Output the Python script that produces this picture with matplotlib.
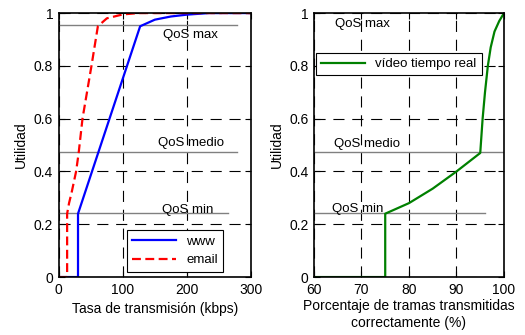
import matplotlib.pyplot as plt

plt.rcParams['font.family'] = ['Liberation Sans', 'DejaVu Sans']
plt.rcParams['font.size'] = 10

# www curve (kbps, utility)
www_x = [0, 30, 30, 127, 150, 175, 200, 235, 300]
www_y = [0, 0, 0.24, 0.95, 0.975, 0.987, 0.994, 1.0, 1.0]
# email curve
email_x = [0, 13, 13, 16, 20, 27, 31, 37, 44, 51, 61, 75, 100, 125, 300]
email_y = [0, 0, 0.24, 0.28, 0.32, 0.40, 0.47, 0.60, 0.70, 0.80, 0.95, 0.98, 0.995, 1.0, 1.0]
# video curve (% frames, utility)
video_x = [60, 75, 75, 80, 85, 90, 95, 95.5, 96, 96.6, 97.2, 98, 99, 100]
video_y = [0, 0, 0.24, 0.28, 0.335, 0.40, 0.47, 0.60, 0.70, 0.80, 0.87, 0.93, 0.97, 1.0]

qos_levels = [0.955, 0.473, 0.242]
qos_names = ["QoS max", "QoS medio", "QoS min"]

fig = plt.figure(figsize=(5.25, 3.35), dpi=100)
ax1 = fig.add_axes([0.112, 0.173, 0.366, 0.788])
ax2 = fig.add_axes([0.598, 0.173, 0.362, 0.788])

def style(ax):
    ax.grid(True, color='black', linestyle=(0, (10, 7)), linewidth=0.8)
    ax.tick_params(direction='in', top=True, right=True, length=4, pad=4)
    for s in ax.spines.values():
        s.set_linewidth(1.2)
    ax.set_ylim(0, 1)
    ax.set_yticks([0, 0.2, 0.4, 0.6, 0.8, 1])
    ax.set_yticklabels(['0', '0.2', '0.4', '0.6', '0.8', '1'])
    ax.set_ylabel("Utilidad")

# left plot
ax1.plot([0, 278], [qos_levels[0]] * 2, color='gray', lw=1)
ax1.plot([0, 278], [qos_levels[1]] * 2, color='gray', lw=1)
ax1.plot([0, 264], [qos_levels[2]] * 2, color='gray', lw=1)
ax1.text(205, qos_levels[0] - 0.015, qos_names[0], ha='center', va='top', fontsize=9.5)
ax1.text(207, qos_levels[1] + 0.012, qos_names[1], ha='center', va='bottom', fontsize=9.5)
ax1.text(202, qos_levels[2] - 0.012, qos_names[2], ha='center', va='bottom', fontsize=9.5)
ax1.plot(www_x, www_y, color='blue', lw=1.6, label='www')
ax1.plot(email_x, email_y, color='red', lw=1.6, linestyle=(0, (4, 2)), label='email')
ax1.set_xlim(0, 300)
ax1.set_xticks([0, 100, 200, 300])
ax1.set_xlabel("Tasa de transmisión (kbps)")
style(ax1)
leg = ax1.legend(loc='lower right', bbox_to_anchor=(0.855, 0.02), borderaxespad=0,
                 fancybox=False, edgecolor='black', framealpha=1, handlelength=3.3,
                 borderpad=0.4, fontsize=9.5)
leg.get_frame().set_linewidth(0.8)

# right plot
ax2.plot([60, 100], [qos_levels[1]] * 2, color='gray', lw=1)
ax2.plot([60, 96], [qos_levels[2]] * 2, color='gray', lw=1)
ax2.text(70.3, qos_levels[0] + 0.005, qos_names[0], ha='center', va='center', fontsize=9.5)
ax2.text(71.2, qos_levels[1] + 0.008, qos_names[1], ha='center', va='bottom', fontsize=9.5)
ax2.text(69.3, qos_levels[2] - 0.008, qos_names[2], ha='center', va='bottom', fontsize=9.5)
ax2.plot(video_x, video_y, color='green', lw=1.6, label='vídeo tiempo real')
ax2.set_xlim(60, 100)
ax2.set_xticks([60, 70, 80, 90, 100])
ax2.set_xlabel("Porcentaje de tramas transmitidas\ncorrectamente (%)", labelpad=2)
style(ax2)
leg2 = ax2.legend(loc='center left', bbox_to_anchor=(0.01, 0.807), borderaxespad=0,
                  fancybox=False, edgecolor='black', framealpha=1, handlelength=3.3,
                  borderpad=0.4, fontsize=9.5)
leg2.get_frame().set_linewidth(0.8)

plt.savefig("out.png", dpi=100)
